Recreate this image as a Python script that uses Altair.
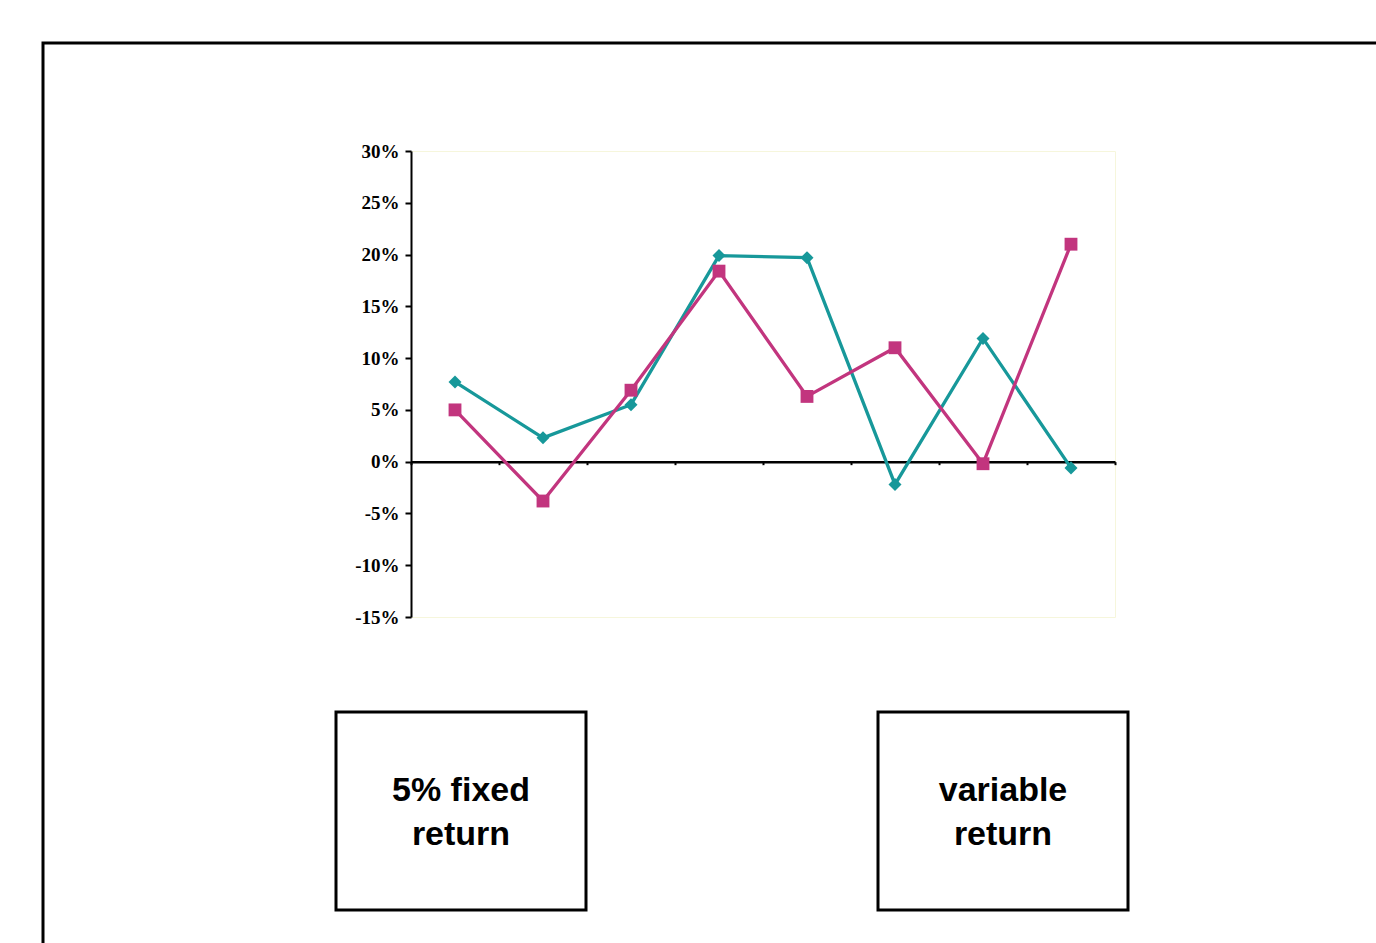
import altair as alt
import pandas as pd

# Yearly returns (%) for the two series
periods = [1, 2, 3, 4, 5, 6, 7, 8]
variable_a = [7.7, 2.3, 5.5, 19.9, 19.7, -2.2, 11.9, -0.6]
variable_b = [5.0, -3.8, 6.9, 18.4, 6.3, 11.0, -0.2, 21.0]
series_names = ["Series A", "Series B"]
series_colors = ["#17989a", "#c2357e"]
series_shapes = ["diamond", "square"]
y_ticks = [-15, -10, -5, 0, 5, 10, 15, 20, 25, 30]
box_text_left = ["5% fixed", "return"]
box_text_right = ["variable", "return"]

# Canvas and plot-area geometry (pixels)
CANVAS_W, CANVAS_H = 1376, 943
PLOT_L, PLOT_T, PLOT_W, PLOT_H = 411, 151, 704, 466
Y_MIN, Y_MAX = -15, 30
ZERO_FROM_BOTTOM = PLOT_H * (0 - Y_MIN) / (Y_MAX - Y_MIN)

rows = []
for name, vals in zip(series_names, [variable_a, variable_b]):
    for p, v in zip(periods, vals):
        rows.append({"period": p, "series": name, "ret": v})
df = pd.DataFrame(rows)

x_enc = alt.X(
    "pos:Q",
    scale=alt.Scale(domain=[0, len(periods)], nice=False, zero=False),
    axis=alt.Axis(
        values=list(range(0, len(periods) + 1)),
        labels=False, title=None, grid=False,
        tickSize=3, tickWidth=2, tickColor="black",
        domainColor="black", domainWidth=2.5,
        offset=-ZERO_FROM_BOTTOM,
    ),
)
y_enc = alt.Y(
    "ret:Q",
    scale=alt.Scale(domain=[Y_MIN, Y_MAX], nice=False, zero=False),
    axis=alt.Axis(
        values=y_ticks, labelExpr="datum.value + '%'", title=None, grid=False,
        tickSize=6, tickWidth=2, tickColor="black",
        domainColor="black", domainWidth=2,
        labelFont="Liberation Serif", labelFontWeight="bold",
        labelFontSize=19, labelColor="black", labelPadding=6,
    ),
)
color_enc = alt.Color(
    "series:N",
    scale=alt.Scale(domain=series_names, range=series_colors),
    legend=None,
)

base = alt.Chart(df).transform_calculate(pos="datum.period - 0.5")

lines = base.mark_line(strokeWidth=3.3).encode(
    x=x_enc, y=y_enc, color=color_enc,
    detail="series:N",
    order="period:Q",
)
points = base.mark_point(filled=True, opacity=1).encode(
    x=x_enc, y=y_enc, color=color_enc,
    shape=alt.Shape("series:N",
                    scale=alt.Scale(domain=series_names, range=series_shapes),
                    legend=None),
    size=alt.Size("series:N",
                  scale=alt.Scale(domain=series_names, range=[170, 165]),
                  legend=None),
)

one = pd.DataFrame({"k": [0]})

# Outer frame running off the right and bottom edges
frame = alt.Chart(one).mark_rect(fill="transparent", stroke="black", strokeWidth=3).encode(
    x=alt.value(43 - PLOT_L), x2=alt.value(CANVAS_W - PLOT_L + 20),
    y=alt.value(43 - PLOT_T), y2=alt.value(CANVAS_H - PLOT_T + 20),
)


def labelled_box(left, right, top, bottom, lines_text):
    rect = alt.Chart(one).mark_rect(fill="white", stroke="black", strokeWidth=3).encode(
        x=alt.value(left - PLOT_L), x2=alt.value(right - PLOT_L),
        y=alt.value(top - PLOT_T), y2=alt.value(bottom - PLOT_T),
    )
    txt = alt.Chart(one).mark_text(
        font="Liberation Sans", fontWeight="bold", fontSize=34,
        color="black", align="center", baseline="middle", lineHeight=44,
    ).encode(
        x=alt.value((left + right) / 2 - PLOT_L),
        y=alt.value(791 - PLOT_T),
        text=alt.value(lines_text),
    )
    return rect + txt


box_left = labelled_box(336, 586, 712, 910, box_text_left)
box_right = labelled_box(878, 1128, 712, 910, box_text_right)

chart = alt.layer(frame, box_left, box_right, lines, points).properties(
    width=PLOT_W, height=PLOT_H,
    padding={"left": PLOT_L, "top": PLOT_T,
             "right": CANVAS_W - PLOT_L - PLOT_W,
             "bottom": CANVAS_H - PLOT_T - PLOT_H},
    autosize=alt.AutoSizeParams(type="none"),
    background="white",
).configure_view(stroke="#f6f6dc", strokeWidth=1)

chart.save("out.html", embed_options={"renderer": "svg", "actions": False})
